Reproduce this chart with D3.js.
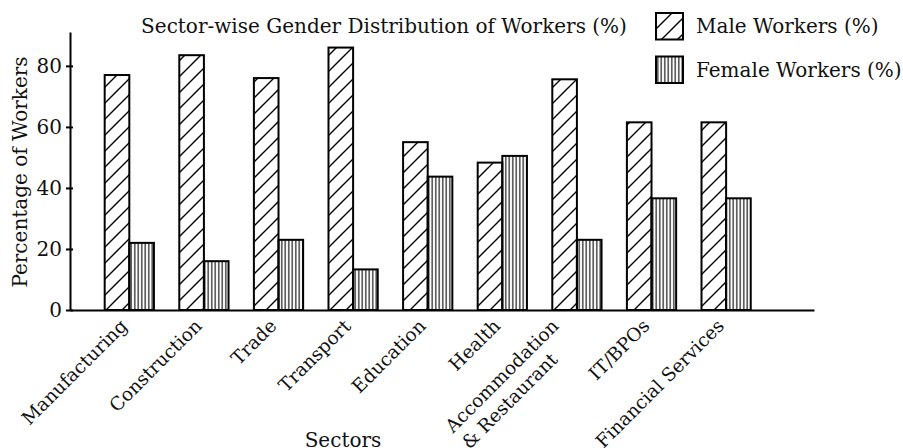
<!DOCTYPE html>
<html>
<head>
<meta charset="utf-8">
<script src="https://cdn.jsdelivr.net/npm/d3@7"></script>
<style>
body { margin: 0; background: #fff; }
text { font-family: "DejaVu Serif", serif; fill: #111; }
</style>
</head>
<body>
<script>
var w = 903;
var h = 448;

var sectors = ["Manufacturing", "Construction", "Trade", "Transport", "Education", "Health",
    "Accommodation\n& Restaurant", "IT/BPOs", "Financial Services"];
var male = [77, 83.5, 76, 86, 55, 48.3, 75.6, 61.5, 61.5];
var female = [22, 16, 23, 13.3, 43.7, 50.5, 23, 36.6, 36.6];
var yTicks = [0, 20, 40, 60, 80];
var seriesNames = ["Male Workers (%)", "Female Workers (%)"];

var fs = 20;    // font size
var xfs = 18.5; // category label size
var bw = 0.33;  // bar width in category units

var x = d3.scaleLinear().domain([-0.795, 9.178]).range([70, 814]);
var y = d3.scaleLinear().domain([0, 91.1]).range([310, 32]);

var svg = d3.select("body")
    .append("svg")
    .attr("width", w)
    .attr("height", h);

var defs = svg.append("defs");
defs.append("pattern")
    .attr("id", "diag")
    .attr("patternUnits", "userSpaceOnUse")
    .attr("width", 16)
    .attr("height", 16)
    .append("path")
    .attr("d", "M-4,4 L4,-4 M0,16 L16,0 M12,20 L20,12")
    .attr("stroke", "#000")
    .attr("stroke-width", 1.4);
defs.append("pattern")
    .attr("id", "vert")
    .attr("patternUnits", "userSpaceOnUse")
    .attr("width", 3.5)
    .attr("height", 10)
    .append("line")
    .attr("x1", 1.75).attr("x2", 1.75)
    .attr("y1", 0).attr("y2", 10)
    .attr("stroke", "#000")
    .attr("stroke-width", 1.1);

// bars
svg.selectAll("rect.male")
    .data(male)
    .enter().append("rect")
    .attr("class", "male")
    .attr("x", function(d, i) { return x(i - bw); })
    .attr("y", function(d) { return y(d); })
    .attr("width", function(d, i) { return x(i) - x(i - bw); })
    .attr("height", function(d) { return y(0) - y(d); })
    .attr("fill", "url(#diag)")
    .attr("stroke", "#000")
    .attr("stroke-width", 2);

svg.selectAll("rect.female")
    .data(female)
    .enter().append("rect")
    .attr("class", "female")
    .attr("x", function(d, i) { return x(i); })
    .attr("y", function(d) { return y(d); })
    .attr("width", function(d, i) { return x(i + bw) - x(i); })
    .attr("height", function(d) { return y(0) - y(d); })
    .attr("fill", "url(#vert)")
    .attr("stroke", "#000")
    .attr("stroke-width", 2);

// axes
var yAxis = svg.append("g")
    .attr("transform", "translate(70,0)")
    .call(d3.axisLeft(y).tickValues(yTicks).tickSize(4).tickSizeOuter(0).tickPadding(4));
yAxis.selectAll(".tick line").attr("x1", 3).attr("stroke-width", 2);
yAxis.select(".domain").attr("stroke-width", 2);
yAxis.selectAll(".tick text")
    .attr("font-size", fs)
    .attr("font-family", "DejaVu Serif")
    .attr("fill", "#111");

var xAxis = svg.append("g")
    .attr("transform", "translate(0,310)")
    .call(d3.axisBottom(x).tickValues([]).tickSizeOuter(0));
xAxis.select(".domain").attr("stroke-width", 2);

// rotated category labels, right/top of rotated box set at the tick
var ang = -Math.PI / 4;
sectors.forEach(function(s, i) {
    var g = svg.append("g");
    var t = g.append("text").attr("font-size", xfs);
    s.split("\n").forEach(function(line, k) {
        t.append("tspan").attr("x", 0).attr("dy", k ? "1.25em" : 0).text(line);
    });
    var b = t.node().getBBox();
    var pts = [[b.x, b.y], [b.x + b.width, b.y], [b.x, b.y + b.height], [b.x + b.width, b.y + b.height]]
        .map(function(p) {
            return [p[0] * Math.cos(ang) - p[1] * Math.sin(ang), p[0] * Math.sin(ang) + p[1] * Math.cos(ang)];
        });
    var mx = d3.max(pts, function(p) { return p[0]; });
    var my = d3.min(pts, function(p) { return p[1]; });
    g.attr("transform", "translate(" + (x(i) + 2 - mx) + "," + (315 - my) + ") rotate(-45)");
});

// titles
svg.append("text")
    .attr("x", 384).attr("y", 33)
    .attr("text-anchor", "middle")
    .attr("font-size", fs)
    .text("Sector-wise Gender Distribution of Workers (%)");

svg.append("text")
    .attr("x", 343).attr("y", 447)
    .attr("text-anchor", "middle")
    .attr("font-size", fs)
    .text("Sectors");

svg.append("text")
    .attr("transform", "translate(27,172) rotate(-90)")
    .attr("text-anchor", "middle")
    .attr("font-size", fs)
    .text("Percentage of Workers");

// legend
var leg = svg.selectAll("g.leg")
    .data(seriesNames)
    .enter().append("g")
    .attr("class", "leg")
    .attr("transform", function(d, i) { return "translate(656," + (13 + i * 43.5) + ")"; });
leg.append("rect")
    .attr("width", 27).attr("height", 26.5)
    .attr("fill", function(d, i) { return i ? "url(#vert)" : "url(#diag)"; })
    .attr("stroke", "#000")
    .attr("stroke-width", 2);
leg.append("text")
    .attr("x", 40).attr("y", 20)
    .attr("font-size", fs)
    .text(function(d) { return d; });
</script>
</body>
</html>
